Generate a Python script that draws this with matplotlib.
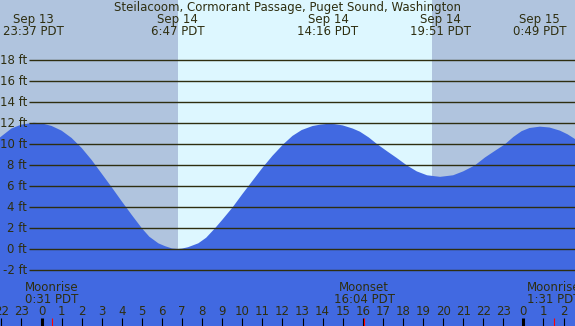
import matplotlib
matplotlib.use('Agg')
import matplotlib.pyplot as plt

# hours counted from Sep 14 00:00 PDT, heights in ft
tide_hours = [-2.07, -1.5, -1.0, -0.38, 0.0, 0.5, 1.0, 1.5, 2.0, 2.5,
              3.0, 3.5, 4.0, 4.5, 5.0, 5.37, 5.82, 6.15, 6.5, 6.78,
              7.0, 7.3, 7.81, 8.2, 8.64, 9.0, 9.52, 10.0, 10.5, 11.0,
              11.5, 12.04, 12.5, 12.96, 13.5, 13.9, 14.27, 14.6, 15.0, 15.5,
              15.86, 16.3, 16.69, 17.2, 17.69, 18.19, 18.69, 19.2, 19.85, 20.5,
              21.0, 21.59, 22.09, 22.6, 23.08, 23.5, 23.91, 24.3, 24.82, 25.3,
              25.82, 26.2, 26.57]
tide_ft = [10.65, 11.5, 11.88, 12.05, 12.0, 11.75, 11.3, 10.6, 9.65, 8.5,
           7.2, 5.9, 4.56, 3.26, 2.0, 1.2, 0.57, 0.3, 0.08, 0.03,
           0.07, 0.2, 0.57, 1.1, 2.0, 2.8, 4.0, 5.25, 6.5, 7.75,
           8.9, 10.0, 10.8, 11.36, 11.74, 11.88, 11.95, 11.92, 11.8, 11.5,
           11.2, 10.65, 10.05, 9.35, 8.7, 8.0, 7.42, 7.05, 6.9, 7.05,
           7.42, 8.0, 8.75, 9.4, 10.0, 10.7, 11.25, 11.55, 11.68, 11.6,
           11.3, 10.95, 10.5]

# high / low tide labels along the top
extreme_hours = [-0.383, 6.783, 14.267, 19.85, 24.817]
extreme_dates = ['Sep 13', 'Sep 14', 'Sep 14', 'Sep 14', 'Sep 15']
extreme_times = ['23:37 PDT', '6:47 PDT', '14:16 PDT', '19:51 PDT', '0:49 PDT']

sunrise, sunset = 6.8, 19.45
moon_hours = [0.517, 16.067, 25.517]
moon_names = ['Moonrise', 'Moonset', 'Moonrise']
moon_times = ['0:31 PDT', '16:04 PDT', '1:31 PDT']

hour_ticks = list(range(-2, 27))
ft_levels = list(range(-2, 20, 2))
title = 'Steilacoom, Cormorant Passage, Puget Sound, Washington'

NIGHT = '#b0c4de'
DAY = '#ddf7ff'
WATER = '#4169e1'
INK = '#2e2e10'
FS = 8.5

# pixel geometry of the chart
W, H = 575, 326
X0, PXH = 41.5, 20.08   # px of 00:00, px per hour
Y0, PXF = 249.3, 10.5   # px of 0 ft (from top), px per ft


def hx(px):
    return (px - X0) / PXH


def fy(py):
    return (Y0 - py) / PXF


fig = plt.figure(figsize=(W / 100, H / 100), dpi=100)
ax = fig.add_axes([0, 0, 1, 1])
ax.set_xlim(hx(0), hx(W))
ax.set_ylim(fy(H), fy(0))
ax.axis('off')

ax.axvspan(hx(0), sunrise, color=NIGHT, lw=0, zorder=0)
ax.axvspan(sunrise, sunset, color=DAY, lw=0, zorder=0)
ax.axvspan(sunset, hx(W), color=NIGHT, lw=0, zorder=0)

ax.fill_between(tide_hours, tide_ft, fy(H), color=WATER, lw=0, zorder=1)

ax.hlines(ft_levels, hx(29), hx(W), color=INK, lw=1.0, zorder=2)
for lv in ft_levels:
    ax.text(hx(27), lv, f'{lv} ft', ha='right', va='center',
            fontsize=FS, color=INK, zorder=3)

fig.text(287 / W, 1 - 7.5 / H, title, ha='center', va='center',
         fontsize=FS, color=INK)
for hr, d, t in zip(extreme_hours, extreme_dates, extreme_times):
    ax.text(hr, fy(20), d, ha='center', va='center', fontsize=FS, color=INK)
    ax.text(hr, fy(31.5), t, ha='center', va='center', fontsize=FS, color=INK)

# hour ticks along the bottom
for hr in hour_ticks:
    lw = 2.2 if hr % 24 == 0 else 0.8
    ax.vlines(hr, fy(H), fy(318), color='black', lw=lw, zorder=3)
    ax.text(hr, fy(311.5), str(hr % 24), ha='center', va='center',
            fontsize=FS, color=INK, zorder=3)

for hr, n, t in zip(moon_hours, moon_names, moon_times):
    ax.vlines(hr, fy(H), fy(318), color='red', lw=0.8, zorder=3)
    ax.text(hr, fy(287.5), n, ha='center', va='center', fontsize=FS, color=INK, zorder=3)
    ax.text(hr, fy(299.5), t, ha='center', va='center', fontsize=FS, color=INK, zorder=3)

fig.savefig('out.png', dpi=100)
